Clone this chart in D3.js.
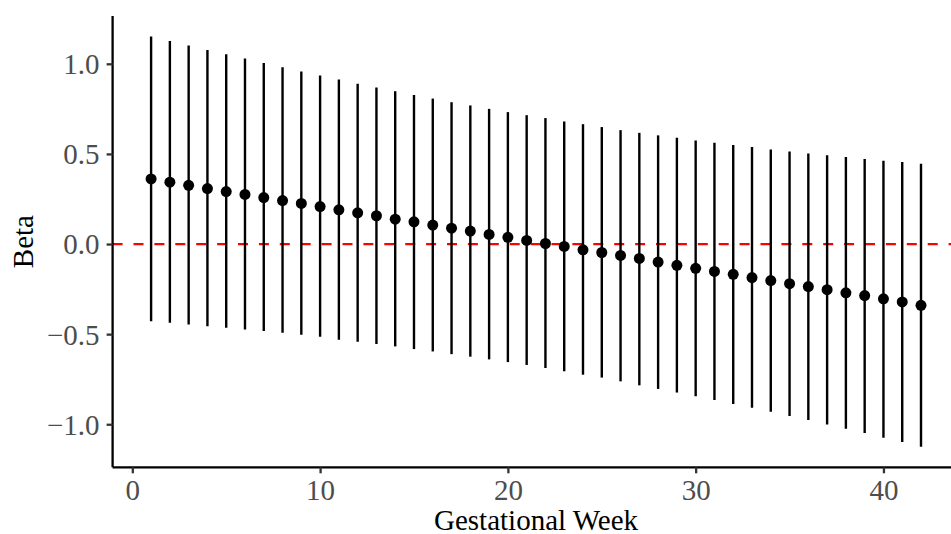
<!DOCTYPE html>
<html>
<head>
<meta charset="utf-8">
<script src="https://cdn.jsdelivr.net/npm/d3@7"></script>
<style>
  body { margin: 0; background: #fff; }
  svg { display: block; font-family: "Liberation Serif", "Times New Roman", serif; }
</style>
</head>
<body>
<svg id="chart" width="951" height="534"></svg>
<script>
// gestational weeks 1..42
var weeks = [1,2,3,4,5,6,7,8,9,10,11,12,13,14,15,16,17,18,19,20,21,
             22,23,24,25,26,27,28,29,30,31,32,33,34,35,36,37,38,39,40,41,42];

// point estimates
var beta = [0.361,0.343,0.326,0.308,0.291,0.275,0.258,0.241,0.225,0.208,
            0.190,0.173,0.157,0.138,0.123,0.105,0.088,0.072,0.053,0.037,
            0.020,0.003,-0.013,-0.032,-0.047,-0.063,-0.080,-0.100,-0.118,-0.135,
            -0.152,-0.168,-0.186,-0.203,-0.220,-0.236,-0.253,-0.271,-0.286,-0.304,
            -0.321,-0.340];

// upper confidence limits
var upper = [1.152,1.126,1.101,1.076,1.053,1.029,1.004,0.981,0.957,0.935,
             0.913,0.890,0.868,0.848,0.827,0.807,0.787,0.769,0.750,0.732,
             0.715,0.699,0.680,0.665,0.649,0.632,0.617,0.603,0.590,0.575,
             0.562,0.549,0.538,0.525,0.514,0.503,0.492,0.483,0.472,0.462,
             0.455,0.446];

// lower confidence limits
var lower = [-0.428,-0.437,-0.446,-0.456,-0.465,-0.474,-0.483,-0.492,-0.503,-0.514,
             -0.531,-0.542,-0.555,-0.568,-0.583,-0.596,-0.611,-0.625,-0.640,-0.655,
             -0.671,-0.688,-0.706,-0.725,-0.741,-0.762,-0.784,-0.804,-0.824,-0.845,
             -0.865,-0.887,-0.909,-0.931,-0.954,-0.977,-1.001,-1.025,-1.049,-1.075,
             -1.099,-1.125];

var xTicks = [0, 10, 20, 30, 40];
var yTicks = [-1.0, -0.5, 0.0, 0.5, 1.0];

var data = weeks.map(function (w, i) {
    return {week: w, beta: beta[i], lo: lower[i], hi: upper[i]};
});

// panel box (ggplot style, 5% expansion on both axes)
var panelL = 112.6, panelR = 959.5, panelT = 15.9, panelB = 467.3;

var xExt = d3.extent(weeks);
var xPad = (xExt[1] - xExt[0]) * 0.05;
var x = d3.scaleLinear()
    .domain([xExt[0] - xPad, xExt[1] + xPad])
    .range([panelL, panelR]);

var yMin = d3.min(lower), yMax = d3.max(upper);
var yPad = (yMax - yMin) * 0.05;
var y = d3.scaleLinear()
    .domain([yMin - yPad, yMax + yPad])
    .range([panelB, panelT]);

var svg = d3.select("#chart");

// zero reference line
svg.append("line")
    .attr("x1", panelL).attr("x2", panelR)
    .attr("y1", y(0)).attr("y2", y(0))
    .attr("stroke", "#ff0000")
    .attr("stroke-width", 2.3)
    .attr("stroke-dasharray", "10,10.9");

// error bars
svg.append("g").selectAll("line")
    .data(data)
    .enter().append("line")
    .attr("x1", function (d) { return x(d.week); })
    .attr("x2", function (d) { return x(d.week); })
    .attr("y1", function (d) { return y(d.lo); })
    .attr("y2", function (d) { return y(d.hi); })
    .attr("stroke", "#000")
    .attr("stroke-width", 2.4);

// points
svg.append("g").selectAll("circle")
    .data(data)
    .enter().append("circle")
    .attr("cx", function (d) { return x(d.week); })
    .attr("cy", function (d) { return y(d.beta); })
    .attr("r", 5.5)
    .attr("fill", "#000");

// axes
var fmtY = function (v) { return d3.format(".1f")(v).replace("-", "\u2212"); };

var gX = svg.append("g")
    .attr("transform", "translate(0," + panelB + ")")
    .call(d3.axisBottom(x).tickValues(xTicks).tickSize(6).tickPadding(7).tickSizeOuter(0));

var gY = svg.append("g")
    .attr("transform", "translate(" + panelL + ",0)")
    .call(d3.axisLeft(y).tickValues(yTicks).tickFormat(fmtY).tickSize(6).tickPadding(7).tickSizeOuter(0));

[gX, gY].forEach(function (g) {
    g.attr("font-family", null).attr("font-size", null);
    g.select(".domain").attr("stroke", "#000").attr("stroke-width", 2.3);
    g.selectAll(".tick line").attr("stroke", "#333333").attr("stroke-width", 2.3);
    g.selectAll(".tick text")
        .attr("fill", "#4d4d4d")
        .style("font-size", "29px");
});
gY.selectAll(".tick text").attr("dy", "0.34em");
gX.selectAll(".tick text").attr("dy", "0.68em");

// domain lines span the whole panel
gY.select(".domain").attr("d", "M0," + panelT + "V" + panelB);
gX.select(".domain").attr("d", "M" + panelL + ",0H" + panelR);

// axis titles
svg.append("text")
    .attr("x", (panelL + panelR) / 2)
    .attr("y", 530)
    .attr("text-anchor", "middle")
    .attr("fill", "#000")
    .style("font-size", "29px")
    .text("Gestational Week");

svg.append("text")
    .attr("transform", "translate(33," + (panelT + panelB) / 2 + ") rotate(-90)")
    .attr("text-anchor", "middle")
    .attr("fill", "#000")
    .style("font-size", "29px")
    .text("Beta");
</script>
</body>
</html>
